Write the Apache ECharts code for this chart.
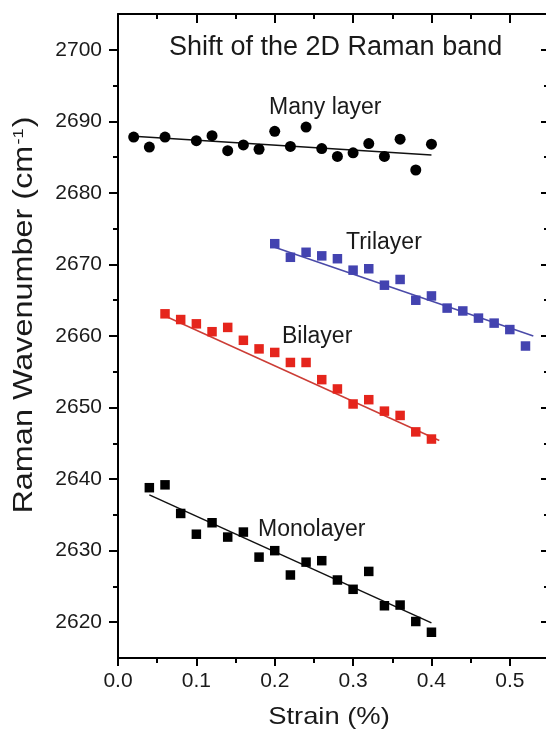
<!DOCTYPE html>
<html>
<head>
<meta charset="utf-8">
<script src="https://cdn.jsdelivr.net/npm/echarts@6/dist/echarts.min.js"></script>
<style>
  html, body { margin: 0; padding: 0; background: #fff; }
  #chart { width: 546px; height: 732px; }
</style>
</head>
<body>
<div id="chart"></div>
<script>
// Strain (%) and 2D-band position (cm^-1) for each sample
const strainMany = [0.02, 0.04, 0.06, 0.10, 0.12, 0.14, 0.16, 0.18, 0.20, 0.22, 0.24, 0.26, 0.28, 0.30, 0.32, 0.34, 0.36, 0.38, 0.40];
const shiftMany  = [2687.8, 2686.4, 2687.8, 2687.3, 2688.0, 2685.9, 2686.7, 2686.1, 2688.6, 2686.5, 2689.2, 2686.2, 2685.1, 2685.6, 2686.9, 2685.1, 2687.5, 2683.2, 2686.8];

const strainTri = [0.20, 0.22, 0.24, 0.26, 0.28, 0.30, 0.32, 0.34, 0.36, 0.38, 0.40, 0.42, 0.44, 0.46, 0.48, 0.50, 0.52];
const shiftTri  = [2672.9, 2671.0, 2671.7, 2671.2, 2670.8, 2669.2, 2669.4, 2667.1, 2667.9, 2665.0, 2665.6, 2663.9, 2663.5, 2662.5, 2661.8, 2660.9, 2658.6];

const strainBi = [0.06, 0.08, 0.10, 0.12, 0.14, 0.16, 0.18, 0.20, 0.22, 0.24, 0.26, 0.28, 0.30, 0.32, 0.34, 0.36, 0.38, 0.40];
const shiftBi  = [2663.1, 2662.3, 2661.7, 2660.6, 2661.2, 2659.4, 2658.2, 2657.7, 2656.3, 2656.3, 2653.9, 2652.6, 2650.5, 2651.1, 2649.5, 2648.9, 2646.6, 2645.6];

const strainMono = [0.04, 0.06, 0.08, 0.10, 0.12, 0.14, 0.16, 0.18, 0.20, 0.22, 0.24, 0.26, 0.28, 0.30, 0.32, 0.34, 0.36, 0.38, 0.40];
const shiftMono  = [2638.8, 2639.2, 2635.2, 2632.3, 2633.9, 2631.9, 2632.6, 2629.1, 2630.0, 2626.6, 2628.4, 2628.6, 2625.9, 2624.6, 2627.1, 2622.3, 2622.4, 2620.1, 2618.6];

// linear-fit end points: [strain, wavenumber]
const fitMany = [[0.02, 2687.9], [0.40, 2685.3]];
const fitTri  = [[0.20, 2672.4], [0.53, 2660.0]];
const fitBi   = [[0.06, 2662.8], [0.41, 2645.4]];
const fitMono = [[0.04, 2637.8], [0.40, 2619.9]];

// axis ticks
const xMajor = [0, 0.1, 0.2, 0.3, 0.4, 0.5];
const xMinor = [0.05, 0.15, 0.25, 0.35, 0.45];
const yMajor = [2620, 2630, 2640, 2650, 2660, 2670, 2680, 2690, 2700];
const yMinor = [2625, 2635, 2645, 2655, 2665, 2675, 2685, 2695];

const pairs = (xs, ys) => xs.map((x, i) => [x, ys[i]]);

const FONT = 'Liberation Sans, Arial, sans-serif';
const INK = '#1a1a1a';
const RED = '#e5251c';
const BLUE = '#4343b0';

function xAxisPart(pos, ticks, len, inside, withLine, withLabel) {
  return {
    type: 'value', position: pos, min: 0, max: 0.55,
    axisLine: { show: withLine, onZero: false, lineStyle: { color: '#000', width: 2 } },
    axisTick: { show: true, customValues: ticks, length: len, inside: inside, lineStyle: { color: '#000', width: 2 } },
    axisLabel: withLabel ? {
      show: true, customValues: xMajor, formatter: v => v.toFixed(1),
      fontSize: 21, fontFamily: FONT, color: INK, margin: 13
    } : { show: false, customValues: ticks },
    splitLine: { show: false }
  };
}
function yAxisPart(pos, ticks, len, inside, withLine, withLabel) {
  return {
    type: 'value', position: pos, min: 2615, max: 2705,
    axisLine: { show: withLine, onZero: false, lineStyle: { color: '#000', width: 2 } },
    axisTick: { show: true, customValues: ticks, length: len, inside: inside, lineStyle: { color: '#000', width: 2 } },
    axisLabel: withLabel ? {
      show: true, customValues: yMajor, formatter: v => String(v),
      fontSize: 21, fontFamily: FONT, color: INK, margin: 16
    } : { show: false, customValues: ticks },
    splitLine: { show: false }
  };
}

const fitLine = (name, data, color) => ({
  name: name, type: 'line', data: data, symbol: 'none',
  lineStyle: { color: color, width: 1.5 }, z: 2, silent: true
});
const points = (name, data, symbol, size, color) => ({
  name: name, type: 'scatter', data: data, symbol: symbol, symbolSize: size,
  itemStyle: { color: color, opacity: 1 }, z: 3
});

const option = {
  animation: false,
  backgroundColor: '#fff',
  grid: { left: 118, right: -3, top: 14, bottom: 74, containLabel: false, outerBoundsMode: 'none' },
  xAxis: [
    xAxisPart('bottom', xMajor, 8, false, true, true),
    xAxisPart('bottom', xMinor, 5, false, false, false),
    xAxisPart('top', xMajor, 9, true, true, false),
    xAxisPart('top', xMinor, 5, true, false, false)
  ],
  yAxis: [
    yAxisPart('left', yMajor, 9, false, true, true),
    yAxisPart('left', yMinor, 5, false, false, false),
    yAxisPart('right', yMajor, 8, true, true, false),
    yAxisPart('right', yMinor, 5, true, false, false)
  ],
  series: [
    fitLine('Many layer fit', fitMany, '#111'),
    fitLine('Trilayer fit', fitTri, '#4a4aa8'),
    fitLine('Bilayer fit', fitBi, '#cc3d36'),
    fitLine('Monolayer fit', fitMono, '#111'),
    points('Many layer', pairs(strainMany, shiftMany), 'circle', 11, '#000'),
    points('Trilayer', pairs(strainTri, shiftTri), 'rect', 9.5, BLUE),
    points('Bilayer', pairs(strainBi, shiftBi), 'rect', 9.5, RED),
    points('Monolayer', pairs(strainMono, shiftMono), 'rect', 9.5, '#000')
  ],
  graphic: [
    // axis titles
    { type: 'text', x: 329, y: 717, scaleX: 1.14, z: 10,
      style: { text: 'Strain (%)', font: '24px ' + FONT, fill: INK, align: 'center', verticalAlign: 'middle' } },
    { type: 'text', x: 25, y: 315, rotation: Math.PI / 2, scaleX: 1.2, z: 10,
      style: {
        text: '{n|Raman Wavenumber (cm}{s|-1}{n|)}', align: 'center', verticalAlign: 'middle',
        rich: {
          n: { font: '27px ' + FONT, fill: INK },
          s: { font: '15px ' + FONT, fill: INK, verticalAlign: 'top', padding: [0, 1, 12, 1] }
        }
      } },
    // heading and curve labels
    { type: 'text', left: 169, top: 34, z: 10, style: { text: 'Shift of the 2D Raman band', font: '27px ' + FONT, fill: INK } },
    { type: 'text', left: 269, top: 96, z: 10, style: { text: 'Many layer', font: '23px ' + FONT, fill: INK } },
    { type: 'text', left: 346, top: 231, z: 10, style: { text: 'Trilayer', font: '23px ' + FONT, fill: INK } },
    { type: 'text', left: 282, top: 325, z: 10, style: { text: 'Bilayer', font: '23px ' + FONT, fill: INK } },
    { type: 'text', left: 258, top: 518, z: 10, style: { text: 'Monolayer', font: '23px ' + FONT, fill: INK } }
  ]
};

const chart = echarts.init(document.getElementById('chart'), null, { renderer: 'canvas' });
chart.setOption(option);
</script>
</body>
</html>
